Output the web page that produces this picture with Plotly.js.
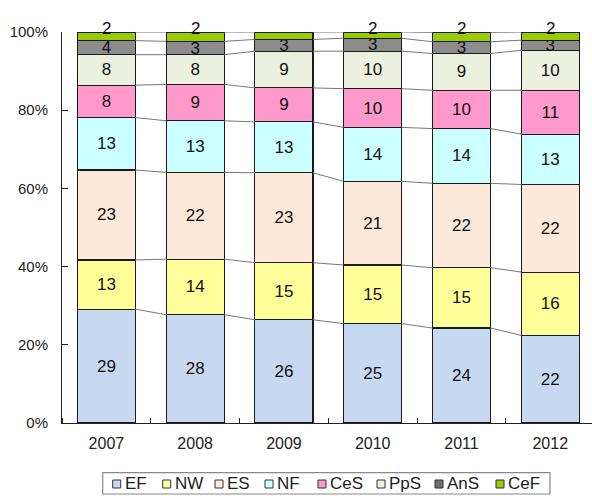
<!DOCTYPE html>
<html>
<head>
<meta charset="utf-8">
<script src="https://cdn.plot.ly/plotly-3.0.1.min.js"></script>
<style>
  html, body { margin: 0; padding: 0; background: #fff; }
  #chart { width: 592px; height: 496px; }
</style>
</head>
<body>
<div id="chart"></div>
<script>
// share of each group per year (%)
const years = ['2007', '2008', '2009', '2010', '2011', '2012'];
const EF  = [29.1, 27.7, 26.4, 25.4, 24.3, 22.4];
const NW  = [12.6, 14.2, 14.6, 15.0, 15.4, 16.2];
const ES  = [23.0, 22.2, 23.0, 21.4, 21.6, 22.4];
const NF  = [13.4, 13.2, 13.0, 13.8, 14.0, 12.9];
const CeS = [8.3, 9.3, 8.7, 9.9, 9.8, 11.2];
const PpS = [7.8, 7.6, 9.4, 9.6, 9.4, 10.2];
const AnS = [3.6, 3.4, 3.0, 3.3, 3.0, 2.6];
const CeF = [2.2, 2.4, 1.9, 1.6, 2.4, 2.1];

const names = ['EF', 'NW', 'ES', 'NF', 'CeS', 'PpS', 'AnS', 'CeF'];
const values = [EF, NW, ES, NF, CeS, PpS, AnS, CeF];
const colors = ['#c6d9f0', '#ffff99', '#fde9d9', '#ccffff', '#ff99cc', '#ebf1de', '#8c8c8c', '#99cc00'];

const W = 592, H = 496;
const M = { l: 62, r: 0, t: 32, b: 73 };
const barWidth = 0.655;
const xpos = years.map((y, i) => i);

// pixel -> paper helpers for the hand-made legend
const plotW = W - M.l - M.r, plotH = H - M.t - M.b;
const px2x = px => (px - M.l) / plotW;
const px2y = py => (H - M.b - py) / plotH;

let traces = [];
let annotations = [];

// thin grey lines joining the segment tops of neighbouring bars
let running = years.map(() => 0);
values.forEach(vals => {
  running = running.map((r, i) => r + vals[i]);
  let lx = [], ly = [];
  for (let i = 0; i < years.length - 1; i++) {
    lx.push(i + barWidth / 2, i + 1 - barWidth / 2, null);
    ly.push(running[i], running[i + 1], null);
  }
  traces.push({
    x: lx, y: ly,
    type: 'scatter', mode: 'lines',
    line: { color: '#777', width: 1 },
    showlegend: false, hoverinfo: 'skip'
  });
});

values.forEach((vals, k) => {
  let last = k === values.length - 1;
  traces.push({
    x: xpos,
    y: vals,
    name: names[k],
    type: 'bar',
    width: barWidth,
    marker: { color: colors[k], line: { color: '#1a1a1a', width: 1.1 } },
    texttemplate: last ? '' : '%{y:.0f}',
    textposition: 'inside',
    insidetextanchor: 'middle',
    textangle: 0,
    textfont: { size: 17, color: '#111' },
    showlegend: false
  });
});

// the thin top segment gets its label sitting on the bar top
CeF.forEach((v, i) => {
  annotations.push({
    x: i, y: running[i], xref: 'x', yref: 'y',
    text: String(Math.round(v)), showarrow: false,
    yanchor: 'middle', yshift: 4,
    font: { size: 17, color: '#111' }
  });
});

// legend: small outlined squares + labels in a grey box
const legendStart = [112.7, 162.7, 215, 265, 318, 377, 435, 496];
const legendY = 484;
let shapes = [{
  type: 'rect', xref: 'paper', yref: 'paper',
  x0: px2x(102.7), x1: px2x(550), y0: px2y(494), y1: px2y(472.7),
  line: { color: '#888', width: 1.2 }, fillcolor: 'rgba(0,0,0,0)'
}];
names.forEach((n, k) => {
  let sx = legendStart[k];
  shapes.push({
    type: 'rect', xref: 'paper', yref: 'paper',
    x0: px2x(sx), x1: px2x(sx + 8), y0: px2y(legendY + 4), y1: px2y(legendY - 4),
    line: { color: '#333', width: 1 }, fillcolor: k === 6 ? '#707070' : colors[k]
  });
  annotations.push({
    xref: 'paper', yref: 'paper',
    x: px2x(sx + 10), y: px2y(legendY),
    xanchor: 'left', yanchor: 'middle',
    text: n, showarrow: false,
    font: { size: 17, color: '#222' }
  });
});

let layout = {
  width: W,
  height: H,
  barmode: 'stack',
  margin: M,
  paper_bgcolor: '#fff',
  plot_bgcolor: '#fff',
  font: { family: 'Liberation Sans, Arial, sans-serif', size: 15, color: '#222' },
  uniformtext: { minsize: 17, mode: 'show' },
  showlegend: false,
  shapes: shapes,
  annotations: annotations,
  xaxis: {
    range: [-0.5, 5.47],
    tickvals: xpos,
    ticktext: years,
    ticks: '',
    tickfont: { size: 16 },
    ticklabelstandoff: 6,
    showgrid: false,
    zeroline: false,
    showline: true,
    linecolor: '#222',
    linewidth: 1,
    minor: { tick0: 0.5, dtick: 1, ticks: 'inside', ticklen: 5, tickcolor: '#222', showgrid: false }
  },
  yaxis: {
    range: [0, 100],
    dtick: 20,
    ticksuffix: '%',
    ticks: 'inside',
    ticklen: 6,
    tickcolor: '#222',
    tickfont: { size: 15 },
    ticklabelstandoff: 10,
    showgrid: false,
    zeroline: false,
    showline: true,
    linecolor: '#222',
    linewidth: 1
  }
};

Plotly.newPlot('chart', traces, layout, { displayModeBar: false, staticPlot: true });
</script>
</body>
</html>
